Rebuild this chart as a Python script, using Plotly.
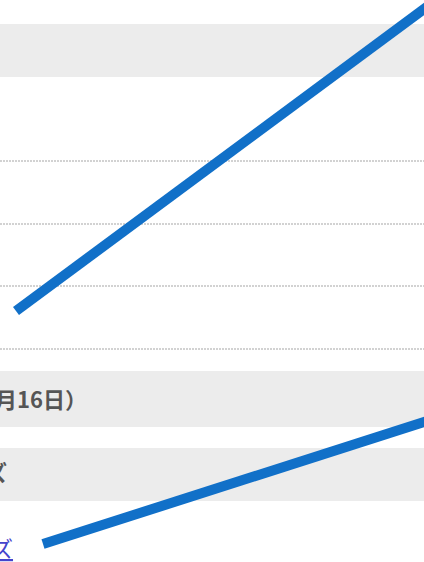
import plotly.graph_objects as go

# ---- data (pixel-space coordinates of the page, y downwards) ----
band_top = [24, 371, 448]
band_bottom = [77, 427, 501]
dotted_y = [161, 224, 286, 349]

line1_x = [16, 440]
line1_y = [311, -2.8]
line2_x = [43, 440]
line2_y = [544, 416.9]

labels = ["月16日）", "ズ"]
label_x = [89, 9]
label_y = [398, 471]
link_text = "ズ"
link_x = 15
link_y = 547

W, H = 424, 562
fig = go.Figure()

for y0, y1 in zip(band_top, band_bottom):
    fig.add_shape(type="rect", xref="x", yref="y", x0=-10, x1=W + 10, y0=y0, y1=y1,
                  fillcolor="#ececec", line=dict(width=0), layer="below")
for yd in dotted_y:
    fig.add_shape(type="line", xref="x", yref="y", x0=0, x1=W, y0=yd, y1=yd,
                  line=dict(color="#d2d2d2", width=2, dash="2px,1px"), layer="below")

for lx, ly in [(line1_x, line1_y), (line2_x, line2_y)]:
    fig.add_trace(go.Scatter(x=lx, y=ly, mode="lines",
                             line=dict(color="#1170c8", width=10),
                             hoverinfo="skip", showlegend=False))

for t, x, y in zip(labels, label_x, label_y):
    fig.add_annotation(x=x, y=y, xref="x", yref="y", text="<b>" + t + "</b>",
                       showarrow=False, xanchor="right", yanchor="middle",
                       font=dict(family="Noto Sans CJK JP", size=22, color="#555555"))

fig.add_annotation(x=link_x, y=link_y, xref="x", yref="y",
                   text='<span style="text-decoration:underline">' + link_text + '</span>',
                   showarrow=False, xanchor="right", yanchor="middle",
                   font=dict(family="Noto Sans CJK JP", size=22, color="#4444cc"))

fig.update_xaxes(range=[0, W], visible=False, fixedrange=True)
fig.update_yaxes(range=[H, 0], visible=False, fixedrange=True)
fig.update_layout(width=W, height=H, margin=dict(l=0, r=0, t=0, b=0),
                  paper_bgcolor="white", plot_bgcolor="white")

fig.write_html("out.html", config={"displayModeBar": False},
               post_script="document.body.style.margin='0';")
